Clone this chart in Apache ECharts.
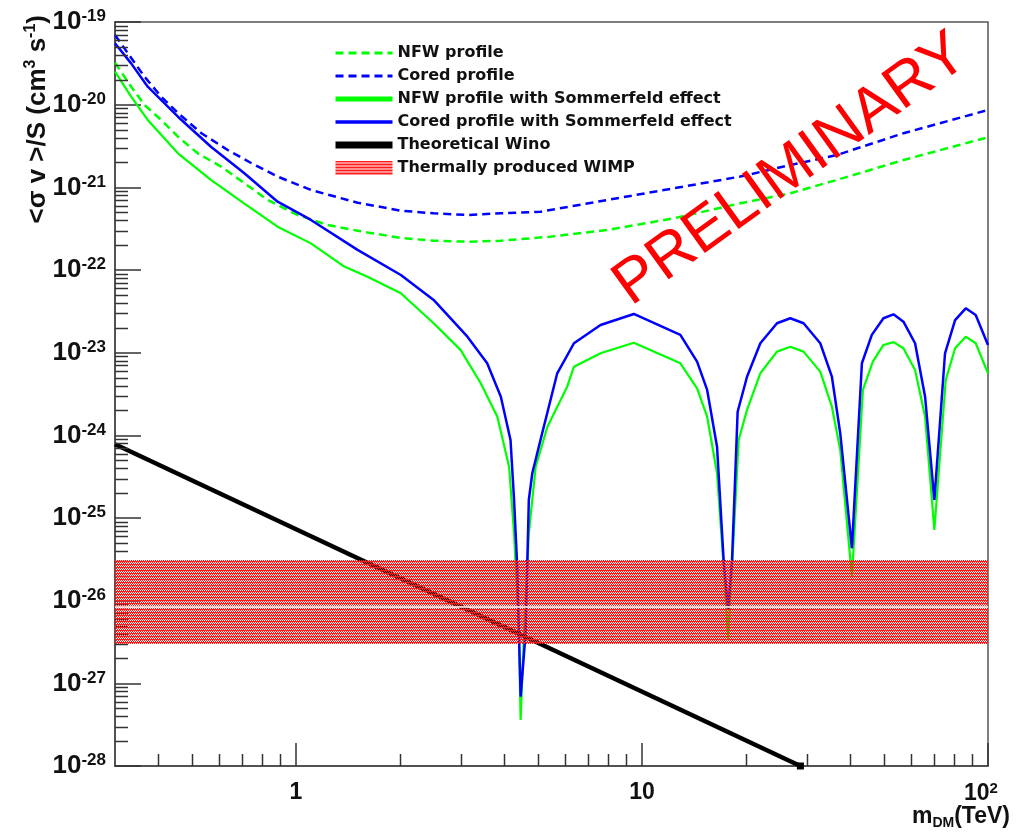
<!DOCTYPE html>
<html>
<head>
<meta charset="utf-8">
<script src="https://cdn.jsdelivr.net/npm/echarts@6/dist/echarts.min.js"></script>
<style>
  html, body { margin: 0; padding: 0; background: #fff; }
  #chart { width: 1021px; height: 834px; }
</style>
</head>
<body>
<div id="chart"></div>
<script>
// values (m in TeV, <sigma v>/S in cm^3 s^-1)
const nfwMass = [0.3, 0.334, 0.365, 0.408, 0.456, 0.52, 0.608, 0.708, 0.829, 1.01, 1.235, 1.507, 1.61, 2.01, 2.5, 3.13, 3.91, 5.44, 7.94, 12.36, 19.24, 26.83, 36.59, 56.97, 100]
const nfwSigma = [3.22e-20, 1.65e-20, 9.9e-21, 6.53e-21, 4.1e-21, 2.58e-21, 1.78e-21, 1.13e-21, 7.03e-22, 4.63e-22, 3.5e-22, 2.99e-22, 2.85e-22, 2.44e-22, 2.26e-22, 2.2e-22, 2.26e-22, 2.53e-22, 3.05e-22, 4.22e-22, 6.41e-22, 8.47e-22, 1.23e-21, 2.14e-21, 4.03e-21]

const coredMass = [0.3, 0.327, 0.365, 0.408, 0.456, 0.532, 0.635, 0.742, 0.885, 1.105, 1.507, 2.01, 2.5, 3.13, 3.91, 5.09, 7.94, 12.36, 19.24, 26.83, 36.59, 56.97, 100]
const coredSigma = [6.96e-20, 4.18e-20, 2.18e-20, 1.25e-20, 7.93e-21, 4.54e-21, 2.83e-21, 1.97e-21, 1.35e-21, 9.29e-22, 6.52e-22, 5.22e-22, 4.85e-22, 4.63e-22, 4.85e-22, 5.07e-22, 7.03e-22, 9.74e-22, 1.35e-21, 1.86e-21, 2.46e-21, 4.51e-21, 8.62e-21]

const nfwSeMass = [0.3, 0.334, 0.373, 0.456, 0.568, 0.708, 0.885, 1.105, 1.38, 1.61, 2.01, 2.5, 2.99, 3.42, 3.82, 4.13, 4.27, 4.41, 4.46, 4.56, 4.71, 4.93, 5.33, 6.08, 6.36, 7.59, 9.47, 12.91, 14.43, 15.43, 16.48, 17.22, 17.74, 18.21, 19.03, 20.12, 21.98, 24.56, 26.83, 29.31, 32.75, 35.39, 37.41, 40.43, 43.5, 46.47, 49.87, 53.3, 56.97, 61.55, 65.8, 69.98, 75.48, 80.33, 86.23, 92.15, 100]
const nfwSeSigma = [2.51e-20, 1.25e-20, 6.53e-21, 2.58e-21, 1.23e-21, 6.41e-22, 3.34e-22, 2.1e-22, 1.1e-22, 8.3e-23, 5.23e-23, 2.27e-23, 1.08e-23, 4.26e-24, 1.68e-24, 4.18e-25, 6.53e-26, 4.06e-27, 3.6e-28, 4.06e-27, 6.53e-26, 4.18e-25, 1.27e-24, 3.88e-24, 6.76e-24, 9.83e-24, 1.32e-23, 7.44e-24, 3.71e-24, 1.68e-24, 3.48e-25, 2.58e-26, 3.35e-27, 2.58e-26, 8.79e-25, 2.03e-24, 5.63e-24, 1.03e-23, 1.18e-23, 1.03e-23, 5.89e-24, 2.22e-24, 6.65e-25, 1.95e-26, 3.54e-24, 7.78e-24, 1.24e-23, 1.34e-23, 1.13e-23, 6.17e-24, 1.68e-24, 7.16e-26, 4.67e-24, 1.13e-23, 1.56e-23, 1.3e-23, 5.63e-24]

const coredSeMass = [0.3, 0.334, 0.373, 0.456, 0.568, 0.708, 0.885, 1.105, 1.507, 2.01, 2.5, 3.13, 3.57, 3.91, 4.17, 4.27, 4.36, 4.41, 4.46, 4.61, 4.66, 4.71, 4.82, 5.09, 5.69, 6.36, 7.59, 9.47, 12.91, 14.43, 15.43, 16.48, 17.22, 17.74, 18.21, 18.9, 20.12, 21.98, 24.56, 26.83, 29.31, 32.75, 35.39, 37.41, 40.43, 43.21, 46.16, 49.87, 53.3, 56.97, 61.55, 65.8, 69.98, 75.13, 80.33, 86.23, 92.15, 100]
const coredSeSigma = [5.52e-20, 3.16e-20, 1.65e-20, 7.15e-21, 3.1e-21, 1.49e-21, 6.7e-22, 4.03e-22, 1.75e-22, 8.7e-23, 4.34e-23, 1.56e-23, 7.44e-24, 2.93e-24, 8.79e-25, 1.65e-25, 2.58e-26, 4.06e-27, 6.9e-28, 4.06e-27, 2.58e-26, 1.65e-25, 3.48e-25, 8.79e-25, 5.63e-24, 1.3e-23, 2.16e-23, 2.94e-23, 1.64e-23, 7.78e-24, 3.54e-24, 7.29e-25, 3.1e-26, 7.71e-27, 3.1e-26, 1.93e-24, 5.12e-24, 1.3e-23, 2.27e-23, 2.61e-23, 2.27e-23, 1.3e-23, 5.12e-24, 1.06e-24, 4.3e-26, 7.44e-24, 1.64e-23, 2.61e-23, 2.91e-23, 2.37e-23, 1.3e-23, 2.93e-24, 1.65e-25, 9.83e-24, 2.48e-23, 3.44e-23, 2.86e-23, 1.24e-23]

const winoMass = [0.3, 28.7]
const winoSigma = [7.8e-25, 1.0e-28]

// thermal relic band and the thin gap line inside it
const bandRange = [3.0e-27, 3.1e-26]
const bandGap = 8.4e-27

const seriesNames = ['NFW profile', 'Cored profile', 'NFW profile with Sommerfeld effect', 'Cored profile with Sommerfeld effect', 'Theoretical Wino', 'Thermally produced WIMP']

const xTickValues = [1, 10, 100]
const xTickLabels = ['1', '10', '{b|10}{s|2}{p|}']
const xMinorTicks = [0.4, 0.5, 0.6, 0.7, 0.8, 0.9, 2, 3, 4, 5, 6, 7, 8, 9, 20, 30, 40, 50, 60, 70, 80, 90]
const yExponents = [-28, -27, -26, -25, -24, -23, -22, -21, -20, -19]
const yMinorDigits = [2, 3, 4, 5, 6, 7, 8, 9]

// the log axis loses precision on values this small, so it runs in units of 1e-28
const Y_UNIT = 1e-28
const FONT = 'Liberation Sans, Arial, Helvetica, sans-serif'
const WIDE_FONT = 'DejaVu Sans, Verdana, sans-serif'

function pairs(xs, ys) {
  return xs.map((x, i) => [x, ys[i] / Y_UNIT])
}

// red hatch with transparent holes, like the ROOT fill style
function hatch() {
  const c = document.createElement('canvas')
  c.width = 4
  c.height = 3
  const ctx = c.getContext('2d')
  ctx.fillStyle = '#ff1a1a'
  ctx.fillRect(0, 0, 4, 1)
  ctx.fillRect(0, 1, 1, 1)
  ctx.fillRect(2, 1, 1, 1)
  ctx.fillRect(1, 2, 1, 1)
  ctx.fillRect(3, 2, 1, 1)
  return { image: c, repeat: 'repeat' }
}
const bandFill = hatch()

const winoData = pairs(winoMass, winoSigma)
winoData[winoData.length - 1] = { value: winoData[winoData.length - 1], symbol: 'rect', symbolSize: 7 }

const noDot = { opacity: 0 }

const option = {
  animation: false,
  backgroundColor: '#fff',
  grid: {
    left: 115, right: 33, top: 22, bottom: 68,
    show: true, borderColor: '#555', borderWidth: 1.5, backgroundColor: '#fff'
  },
  legend: {
    orient: 'vertical', left: 327, top: 40,
    itemWidth: 57, itemHeight: 14, itemGap: 7, itemTextGap: 17,
    textStyle: { fontSize: 16, fontWeight: 'bold', color: '#111', fontFamily: WIDE_FONT },
    data: [
      { name: seriesNames[0], itemStyle: noDot, lineStyle: { width: 3 } },
      { name: seriesNames[1], itemStyle: noDot, lineStyle: { width: 3 } },
      { name: seriesNames[2], itemStyle: noDot, lineStyle: { width: 5 } },
      { name: seriesNames[3], itemStyle: noDot, lineStyle: { width: 3.5 } },
      { name: seriesNames[4], itemStyle: noDot, lineStyle: { width: 7 } },
      { name: seriesNames[5], icon: 'rect', itemStyle: { color: bandFill, opacity: 1 } }
    ]
  },
  xAxis: {
    type: 'log', logBase: 10, min: 0.3, max: 100,
    axisLine: { lineStyle: { color: '#444', width: 1.5 } },
    axisTick: { inside: true, length: 23, lineStyle: { color: '#333', width: 1.5 } },
    splitLine: { show: false },
    axisLabel: {
      margin: 15,
      showMinLabel: false,
      formatter: function (v) {
        const j = xTickValues.findIndex(t => Math.abs(v - t) < 1e-6 * t)
        return j < 0 ? '' : xTickLabels[j]
      },
      fontSize: 23, fontWeight: 'bold', color: '#111', fontFamily: FONT,
      rich: {
        b: { fontSize: 23, fontWeight: 'bold', color: '#111', fontFamily: FONT, lineHeight: 26 },
        s: { fontSize: 15, fontWeight: 'bold', color: '#111', fontFamily: FONT, verticalAlign: 'top', lineHeight: 15 },
        p: { width: 14 }
      }
    }
  },
  yAxis: {
    type: 'log', logBase: 10,
    min: Math.pow(10, yExponents[0]) / Y_UNIT,
    max: Math.pow(10, yExponents[yExponents.length - 1]) / Y_UNIT,
    axisLine: { lineStyle: { color: '#444', width: 1.5 } },
    axisTick: { inside: true, length: 26, lineStyle: { color: '#333', width: 1.5 } },
    splitLine: { show: false },
    axisLabel: {
      margin: 9,
      formatter: function (v) {
        const e = Math.round(Math.log10(v * Y_UNIT))
        return '{b|10}{s|' + e + '}'
      },
      rich: {
        b: { fontSize: 26, fontWeight: 'bold', color: '#111', fontFamily: FONT, lineHeight: 28 },
        s: { fontSize: 17, fontWeight: 'bold', color: '#111', fontFamily: FONT, verticalAlign: 'top', lineHeight: 17 }
      }
    }
  },
  series: [
    {
      name: seriesNames[0], type: 'line', symbol: 'none', z: 3,
      data: pairs(nfwMass, nfwSigma),
      itemStyle: { color: '#00ff00' },
      lineStyle: { color: '#00ff00', width: 2.5, type: [8, 5] }
    },
    {
      name: seriesNames[1], type: 'line', symbol: 'none', z: 3,
      data: pairs(coredMass, coredSigma),
      itemStyle: { color: '#0000ff' },
      lineStyle: { color: '#0000ff', width: 2.5, type: [8, 5] }
    },
    {
      name: seriesNames[2], type: 'line', symbol: 'none', z: 3,
      data: pairs(nfwSeMass, nfwSeSigma),
      itemStyle: { color: '#00ff00' },
      lineStyle: { color: '#00ff00', width: 2.2 }
    },
    {
      name: seriesNames[3], type: 'line', symbol: 'none', z: 3,
      data: pairs(coredSeMass, coredSeSigma),
      itemStyle: { color: '#0000ff' },
      lineStyle: { color: '#0000ff', width: 2.5 }
    },
    {
      name: seriesNames[4], type: 'line', symbol: 'none', z: 4,
      data: winoData,
      itemStyle: { color: '#000' },
      lineStyle: { color: '#000', width: 4.5 }
    },
    {
      name: seriesNames[5], type: 'line', symbol: 'none', z: 10,
      data: [],
      itemStyle: { color: bandFill },
      markArea: {
        silent: true, z: 10,
        itemStyle: { color: bandFill, opacity: 1 },
        data: [[{ yAxis: bandRange[0] / Y_UNIT }, { yAxis: bandRange[1] / Y_UNIT }]]
      },
      markLine: {
        silent: true, symbol: 'none', z: 12,
        label: { show: false },
        lineStyle: { color: '#fff', width: 1.5, type: 'solid', opacity: 1 },
        data: [{ yAxis: bandGap / Y_UNIT }]
      }
    }
  ]
}

const chart = echarts.init(document.getElementById('chart'))
chart.setOption(option)

// minor ticks at 2..9 per decade, placed through the axes' own scales
const x0 = chart.convertToPixel({ xAxisIndex: 0 }, 0.3)
const yBottom = chart.convertToPixel({ yAxisIndex: 0 }, 1)
const tickStyle = { stroke: '#333', lineWidth: 1.5 }
const graphics = []
xMinorTicks.forEach(v => {
  const px = Math.round(chart.convertToPixel({ xAxisIndex: 0 }, v)) + 0.5
  graphics.push({ type: 'line', z: 5, shape: { x1: px, y1: yBottom, x2: px, y2: yBottom - 12 }, style: tickStyle })
})
yExponents.slice(0, -1).forEach(e => {
  yMinorDigits.forEach(d => {
    const py = Math.round(chart.convertToPixel({ yAxisIndex: 0 }, d * Math.pow(10, e - yExponents[0]))) + 0.5
    graphics.push({ type: 'line', z: 5, shape: { x1: x0, y1: py, x2: x0 + 13, y2: py }, style: tickStyle })
  })
})

// axis titles and the watermark
graphics.push({
  type: 'text', x: 38, y: 15, rotation: Math.PI / 2, z: 20,
  style: {
    text: '{a|<σ v >/S (cm}{s|3}{a| s}{s|-1}{a|)}',
    align: 'right', verticalAlign: 'middle',
    rich: {
      a: { fontSize: 26, fontWeight: 'bold', fill: '#111', fontFamily: FONT, lineHeight: 30 },
      s: { fontSize: 16, fontWeight: 'bold', fill: '#111', fontFamily: FONT, verticalAlign: 'top', lineHeight: 16 }
    }
  }
})
graphics.push({
  type: 'text', x: 1010, y: 817, z: 20,
  style: {
    text: '{a|m}{s|DM}{a|(TeV)}',
    align: 'right', verticalAlign: 'middle',
    rich: {
      a: { fontSize: 23, fontWeight: 'bold', fill: '#111', fontFamily: FONT, lineHeight: 26 },
      s: { fontSize: 14, fontWeight: 'bold', fill: '#111', fontFamily: FONT, verticalAlign: 'bottom', lineHeight: 14 }
    }
  }
})
graphics.push({
  type: 'text', x: 791, y: 170, rotation: 0.625, z: 20,
  style: {
    text: 'PRELIMINARY', fill: '#ff0000', fontSize: 62, fontFamily: FONT,
    align: 'center', verticalAlign: 'middle'
  }
})

chart.setOption({ graphic: graphics })
</script>
</body>
</html>
